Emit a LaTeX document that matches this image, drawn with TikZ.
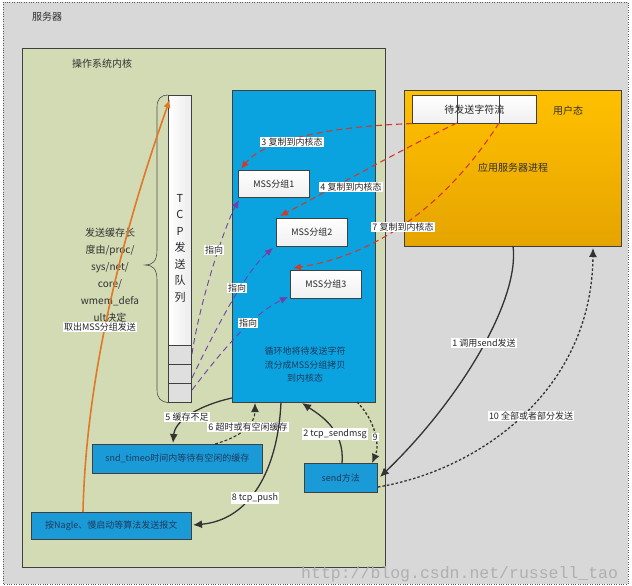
\documentclass[tikz,border=0pt]{standalone}
\usepackage{fontspec}
\setmainfont{Noto Sans CJK SC}
\newfontfamily\monof{Liberation Mono}
\usetikzlibrary{arrows.meta}
\definecolor{bggray}{HTML}{D8D8D8}
\definecolor{kgreen}{HTML}{D3DBB5}
\definecolor{bblue}{HTML}{0AA3E0}
\definecolor{bblue2}{HTML}{1A9BD8}
\definecolor{uor1}{HTML}{FFC000}
\definecolor{uor2}{HTML}{E6A400}
\definecolor{redd}{HTML}{D03A2A}
\definecolor{purp}{HTML}{7040A8}
\definecolor{darkar}{HTML}{333333}
\definecolor{orng}{HTML}{E07828}
\definecolor{navytext}{HTML}{1F3A5A}
\definecolor{txt}{HTML}{303030}
\tikzset{
  box/.style={draw=black!75, anchor=north west, inner sep=0pt, line width=0.6pt},
  whitebox/.style={box, top color=white, bottom color=gray!12, font=\fontsize{9}{10}\selectfont, text=black!85},
  bluebox/.style={box, fill=bblue2, font=\fontsize{9}{10}\selectfont, text=navytext},
  lbl/.style={fill=white, inner sep=1pt, font=\fontsize{9}{10}\selectfont, text=black!85},
  plain/.style={font=\fontsize{10}{11}\selectfont, text=txt},
  redarrow/.style={draw=redd, dash pattern=on 6pt off 4pt, line width=1.1pt, -{Latex[length=8pt,width=7pt]}},
  purarrow/.style={draw=purp, dash pattern=on 6pt off 4pt, line width=0.9pt, -{Latex[length=8pt,width=7pt]}},
  darkarrow/.style={draw=darkar, line width=1.3pt, -{Latex[length=9pt,width=8pt]}},
  dotarrow/.style={darkarrow, dash pattern=on 2.5pt off 2pt},
}
\begin{document}
\begin{tikzpicture}[x=1pt,y=-1pt]
\useasboundingbox (0,0) rectangle (632,586);
% server background
\draw[dotted, draw=gray!70!black, fill=bggray] (3,2) rectangle (628,584);
\node[plain] (server) at (47,17) {服务器};
% kernel
\node[box, fill=kgreen, minimum width=363pt, minimum height=519pt] (kernel) at (22,48) {};
\node[plain] (kernlbl) at (102,64) {操作系统内核};
% TCP queue
\node[box, left color=white, right color=gray!15, minimum width=23pt, minimum height=307pt] (queue) at (168,95) {};
\node[box, fill=gray!25, minimum width=23pt, minimum height=19pt] (cellA) at (168,345) {};
\node[box, fill=gray!25, minimum width=23pt, minimum height=19pt] (cellB) at (168,364) {};
\node[box, fill=gray!25, minimum width=23pt, minimum height=19pt] (cellC) at (168,383) {};
\draw[draw=black!70, line width=0.6pt] (queue.north west) .. controls (161,95) and (157,99) .. (157,107) -- (157,250)
  .. controls (157,262) and (152,265) .. (145,265) .. controls (152,265) and (157,268) .. (157,280)
  -- (157,390) .. controls (157,398) and (161,402) .. (queue.south west);
\node[align=center, font=\fontsize{11}{16.5}\selectfont, text=black!85] (qtext) at (180,248) {T\\C\\P\\发\\送\\队\\列};
\node[plain, align=center, font=\fontsize{10}{17}\selectfont] (buflen) at (110,275) {发送缓存长\\度由/proc/\\sys/net/\\core/\\wmem\_defa\\ult决定};
% blue box
\node[box, fill=bblue, minimum width=143pt, minimum height=312pt] (blue) at (232,90) {};
\node[align=center, font=\fontsize{9}{13.5}\selectfont, text=navytext] (bluetext) at (305,365) {循环地将待发送字符\\流分成MSS分组拷贝\\到内核态};
% user box
\node[box, top color=uor1, bottom color=uor2, minimum width=217pt, minimum height=156pt] (user) at (404,90) {};
\node[plain] (userlbl) at (568,111) {用户态};
\node[plain] (app) at (513,168) {应用服务器进程};
\node[whitebox, minimum width=124pt, minimum height=28pt, font=\fontsize{10}{11}\selectfont] (str) at (412,95) {待发送字符流};
\draw[draw=black!75, line width=0.6pt] (457,95) coordinate (d1) -- (457,123) coordinate (s1);
\draw[draw=black!75, line width=0.6pt] (499,95) coordinate (d2) -- (499,123) coordinate (s2);
% MSS boxes
\node[whitebox, minimum width=71pt, minimum height=27pt] (mss1) at (238,170) {MSS分组1};
\node[whitebox, minimum width=71pt, minimum height=28pt] (mss2) at (276,218) {MSS分组2};
\node[whitebox, minimum width=71pt, minimum height=28pt] (mss3) at (290,270) {MSS分组3};
% bottom boxes
\node[bluebox, minimum width=170pt, minimum height=29pt] (snd) at (92,444) {snd\_timeo时间内等待有空闲的缓存};
\node[bluebox, minimum width=160pt, minimum height=27pt] (nagle) at (31,512) {按Nagle、慢启动等算法发送报文};
\node[bluebox, minimum width=73pt, minimum height=29pt] (send) at (304,463) {send方法};
% orange arrow
\draw[draw=orng, line width=1.6pt, -{Latex[length=9pt,width=7pt]}] (nagle.north west -| 83,0) .. controls (86,380) and (120,240) .. (170,99) coordinate (qtop);
\node[lbl] (take) at (100,327) {取出MSS分组发送};
% red arrows
\coordinate (r3) at (241,169);
\coordinate (r4) at (280,216);
\coordinate (r7) at (293,268);
\draw[redarrow] (str.south west) .. controls (340,126) and (265,138) .. (r3);
\draw[redarrow] (s1) .. controls (400,150) and (330,190) .. (r4);
\draw[redarrow] (s2) .. controls (450,200) and (380,255) .. (r7);
\node[lbl] at (292,142) {3 复制到内核态};
\node[lbl] at (351,187) {4 复制到内核态};
\node[lbl] at (403,227) {7 复制到内核态};
% purple arrows
\coordinate (pa) at (192,354);
\coordinate (pb) at (192,378);
\coordinate (pc) at (192,390);
\coordinate (p1) at (239,200);
\coordinate (p2) at (273,248);
\coordinate (p3) at (288,297);
\draw[purarrow] (pa) .. controls (200,300) and (225,225) .. (p1);
\draw[purarrow] (pb) .. controls (215,330) and (245,272) .. (p2);
\draw[purarrow] (pc) .. controls (215,360) and (250,315) .. (p3);
\node[lbl] at (214,250) {指向};
\node[lbl] at (237,288) {指向};
\node[lbl] at (248,323) {指向};
% dark arrows
\coordinate (b5) at (232,398);
\coordinate (t5) at (173,443);
\draw[darkarrow] (b5) .. controls (200,405) and (175,420) .. (t5);
\node[lbl] at (187,417) {5 缓存不足};
\coordinate (b6) at (215,444);
\coordinate (t6) at (255,403);
\draw[dotarrow, dash pattern=on 3pt off 2pt, line width=1.1pt] (b6) .. controls (240,437) and (255,425) .. (t6);
\node[lbl] at (248,427) {6 超时或有空闲缓存};
\coordinate (b8) at (281,402);
\coordinate (t8) at (193,525);
\draw[darkarrow] (b8) .. controls (278,470) and (250,520) .. (t8);
\node[lbl] at (255,498) {8 tcp\_push};
\coordinate (b2) at (342,463);
\coordinate (t2) at (302,403);
\draw[darkarrow] (b2) .. controls (345,430) and (320,415) .. (t2);
\node[lbl] at (335,434) {2 tcp\_sendmsg};
\coordinate (b9) at (357,402);
\coordinate (t9) at (372,463);
\draw[dotarrow] (b9) .. controls (375,420) and (380,445) .. (t9);
\node[lbl] at (375,437) {9};
\coordinate (b1) at (513,246);
\coordinate (t1) at (380,477);
\draw[darkarrow] (b1) .. controls (520,300) and (460,400) .. (t1);
\node[lbl] at (484,343) {1 调用send发送};
\coordinate (b10) at (378,487);
\coordinate (t10) at (593,248);
\draw[dotarrow] (b10) .. controls (480,470) and (592,390) .. (t10);
\node[lbl] at (531,416) {10 全部或者部分发送};
% watermark
\node[anchor=base west, inner sep=0pt, font=\monof\fontsize{16.5}{17}\selectfont, text=gray!62] (wm) at (301,578) {http://blog.csdn.net/russell\_tao};
\end{tikzpicture}
\end{document}
